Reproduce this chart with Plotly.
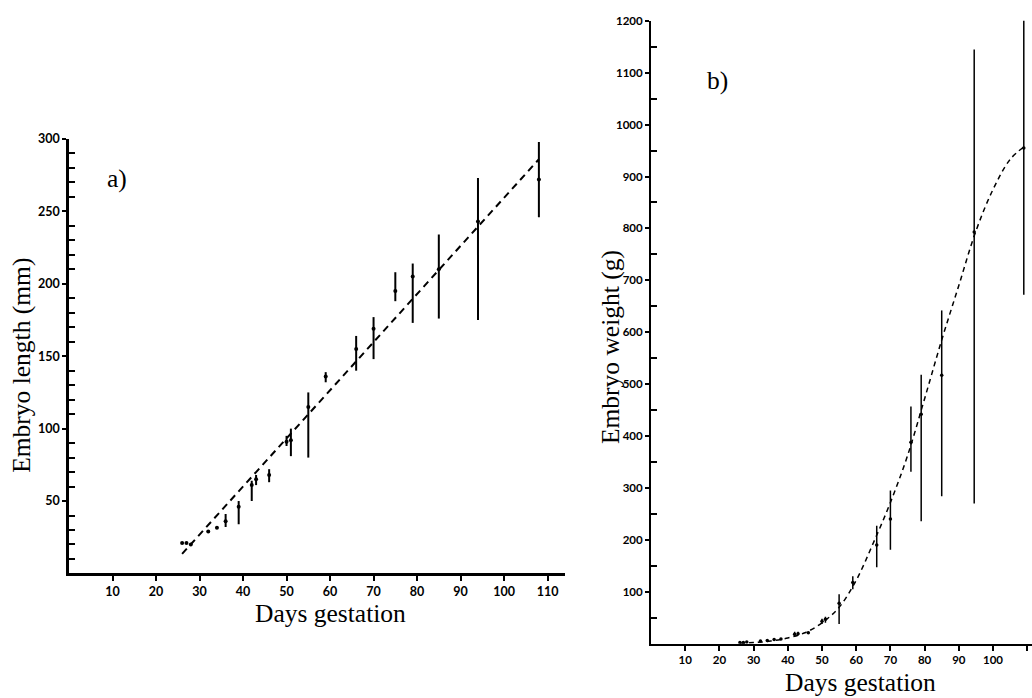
import plotly.graph_objects as go

# ---- Panel a) embryo length ----
days_a = [26, 27, 28, 32, 34, 36, 39, 42, 43, 46, 50, 51, 55, 59, 66, 70, 75, 79, 85, 94, 108]
length_mm = [21, 21, 20, 29, 31.5, 36, 46, 61, 65, 68, 91, 92, 115, 136, 155, 169, 195, 205, 210, 243, 272]
length_low = [21, 21, 20, 29, 31.5, 32, 34, 50, 61, 63, 88, 81, 80, 132, 140, 148, 188, 173, 176, 175, 246]
length_high = [21, 21, 20, 29, 31.5, 41, 50, 64, 68, 72, 95, 100, 125, 139, 164, 177, 208, 214, 234, 273, 298]
fit_a_days = [26, 108]
fit_a_len = [13.5, 286]

# ---- Panel b) embryo weight ----
days_b = [26, 27, 28, 32, 34, 36, 38, 42, 43, 46, 50, 51, 55, 59, 66, 70, 76, 79, 85, 94.5, 109]
weight_g = [2, 2, 3, 5, 6, 8, 9, 18, 19, 21, 43, 47, 78, 118, 190, 240, 388, 442, 517, 793, 955]
weight_low = [2, 2, 3, 5, 6, 8, 9, 14, 16, 19, 38, 40, 38, 105, 147, 181, 331, 236, 284, 270, 672]
weight_high = [2, 2, 3, 5, 6, 8, 9, 23, 23, 23, 48, 52, 95, 130, 227, 295, 457, 518, 642, 1145, 1205]
fit_b_days = [26, 30, 35, 40, 45, 50, 55, 60, 65, 70, 75, 80, 85, 90, 95, 100, 105, 109]
fit_b_wt = [1, 2, 5, 11, 21, 40, 70, 122, 194, 272, 362, 472, 585, 690, 795, 875, 933, 957]

x_ticks = [10, 20, 30, 40, 50, 60, 70, 80, 90, 100, 110]
ya_ticks = [50, 100, 150, 200, 250, 300]
yb_ticks = [100, 200, 300, 400, 500, 600, 700, 800, 900, 1000, 1100, 1200]

W, H = 1032, 698
fig = go.Figure()

fig.add_trace(go.Scatter(
    x=fit_a_days, y=fit_a_len, mode="lines",
    line=dict(color="black", width=2, dash="7px,5px"),
    xaxis="x", yaxis="y", showlegend=False))
fig.add_trace(go.Scatter(
    x=days_a, y=length_mm, mode="markers",
    marker=dict(color="black", size=4),
    error_y=dict(type="data", symmetric=False,
                 array=[h - v for h, v in zip(length_high, length_mm)],
                 arrayminus=[v - l for v, l in zip(length_mm, length_low)],
                 width=0, thickness=2, color="black"),
    xaxis="x", yaxis="y", showlegend=False))

fig.add_trace(go.Scatter(
    x=fit_b_days, y=fit_b_wt, mode="lines", line_shape="spline",
    line=dict(color="black", width=1.5, dash="5px,4px"),
    xaxis="x2", yaxis="y2", showlegend=False))
fig.add_trace(go.Scatter(
    x=days_b, y=weight_g, mode="markers",
    marker=dict(color="black", size=3.5),
    error_y=dict(type="data", symmetric=False,
                 array=[h - v for h, v in zip(weight_high, weight_g)],
                 arrayminus=[v - l for v, l in zip(weight_g, weight_low)],
                 width=0, thickness=1.5, color="black"),
    xaxis="x2", yaxis="y2", showlegend=False))

font_a = dict(family="Lato", size=12.5, color="black", weight="bold")
font_b = dict(family="Lato", size=11.5, color="black", weight="bold")
common = dict(showgrid=False, zeroline=False, showline=True, linecolor="black",
              tickcolor="black", tickmode="array")

fig.update_layout(
    width=W, height=H, margin=dict(l=0, r=0, t=0, b=0),
    paper_bgcolor="white", plot_bgcolor="white",
    xaxis=dict(domain=[69 / W, 565 / W], range=[0, 114], anchor="y",
               tickvals=x_ticks, ticks="outside", ticklen=5, tickwidth=2,
               linewidth=2.5, tickfont=font_a, **common),
    yaxis=dict(domain=[(H - 572) / H, (H - 132.5) / H], range=[0, 300], anchor="x",
               tickvals=ya_ticks, ticks="outside", ticklen=4, tickwidth=2,
               linewidth=2.5, tickfont=font_a,
               minor=dict(tickmode="array", tickvals=[v for v in range(10, 300, 10) if v % 50],
                          ticks="inside", ticklen=6, tickwidth=2, tickcolor="black"),
               **common),
    xaxis2=dict(domain=[651 / W, 1.0], range=[0, 111.4], anchor="y2",
                tickvals=x_ticks, ticks="outside", ticklen=5, tickwidth=1.5,
                linewidth=2, tickfont=font_b, **common),
    yaxis2=dict(domain=[(H - 643) / H, (H - 13) / H], range=[0, 1200], anchor="x2",
                tickvals=yb_ticks, ticks="outside", ticklen=4, tickwidth=1.5,
                linewidth=2, tickfont=font_b,
                minor=dict(tickmode="array", tickvals=[v for v in range(50, 1200, 100)],
                           ticks="inside", ticklen=6, tickwidth=1.5, tickcolor="black"),
                **common),
)

serif = dict(family="Liberation Serif", size=25.5, color="black")
ann = [
    dict(text="Embryo length (mm)", x=22 / W, y=(H - 362) / H, textangle=-90),
    dict(text="Days gestation", x=330 / W, y=(H - 613) / H),
    dict(text="Embryo weight (g)", x=610 / W, y=(H - 343) / H, textangle=-90),
    dict(text="Days gestation", x=860 / W, y=(H - 682) / H),
    dict(text="a)", x=117 / W, y=(H - 172) / H),
    dict(text="b)", x=717 / W, y=(H - 73) / H),
]
for a in ann:
    fig.add_annotation(xref="paper", yref="paper", xanchor="center", yanchor="middle",
                       showarrow=False, font=serif, **a)

fig.write_html("out.html")
